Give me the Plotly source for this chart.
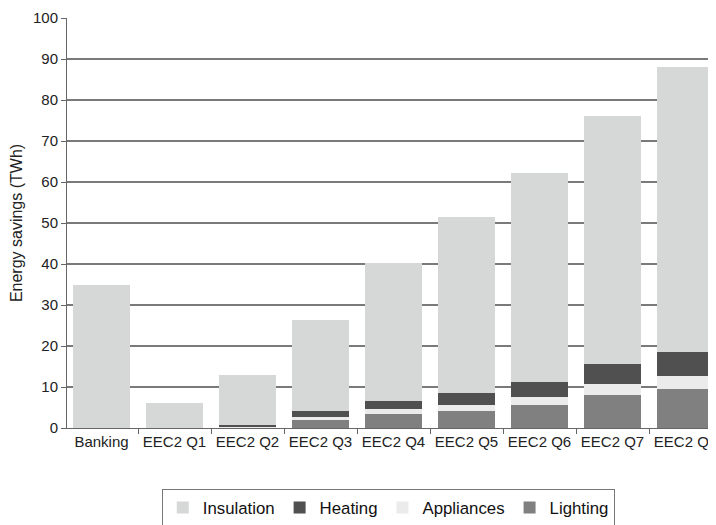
import plotly.graph_objects as go

categories = ["Banking", "EEC2 Q1", "EEC2 Q2", "EEC2 Q3", "EEC2 Q4",
              "EEC2 Q5", "EEC2 Q6", "EEC2 Q7", "EEC2 Q8"]
lighting = [0, 0, 0.2, 2.0, 3.3, 4.1, 5.5, 8.0, 9.4]
appliances = [0, 0, 0.1, 0.6, 1.4, 1.4, 2.0, 2.7, 3.2]
heating = [0, 0, 0.5, 1.5, 1.8, 3.0, 3.7, 4.9, 5.9]
insulation = [35.0, 6.0, 12.2, 22.2, 33.8, 43.0, 51.1, 60.4, 69.5]
y_ticks = [0, 10, 20, 30, 40, 50, 60, 70, 80, 90, 100]

fig = go.Figure()
series = [
    ("Lighting", lighting, "#808080"),
    ("Appliances", appliances, "#ebebeb"),
    ("Heating", heating, "#505050"),
    ("Insulation", insulation, "#d6d8d8"),
]
for name, vals, col in series:
    fig.add_trace(go.Bar(x=categories, y=vals, name=name,
                         marker=dict(color=col, line=dict(width=0))))

fig.update_layout(
    width=716, height=525,
    barmode="stack", bargap=0.22,
    plot_bgcolor="white", paper_bgcolor="white",
    margin=dict(l=59, r=0, t=10, b=105),
    font=dict(family="Liberation Sans, Arial, sans-serif", size=15, color="#222"),
    legend=dict(orientation="h", traceorder="reversed",
                x=0.489, xanchor="center", y=-0.149, yanchor="top",
                bordercolor="#777", borderwidth=1,
                font=dict(size=16.8, color="#111"), itemwidth=30),
    xaxis=dict(type="category", range=[-0.473, 8.527], automargin=False,
               showline=True, linecolor="#666", linewidth=1,
               ticks="outside", tickson="boundaries", ticklen=5, tickcolor="#666",
               showgrid=False, tickfont=dict(size=15)),
    yaxis=dict(range=[0, 100], tickvals=y_ticks, automargin=False,
               showline=True, linecolor="#666", linewidth=1,
               ticks="outside", ticklen=5, tickcolor="#666",
               showgrid=True, gridcolor="#7a7a7a", gridwidth=1.5,
               zeroline=False, tickfont=dict(size=15),
               title=dict(text="Energy savings (TWh)", standoff=10,
                          font=dict(size=16))),
)
fig.write_html("out.html")
